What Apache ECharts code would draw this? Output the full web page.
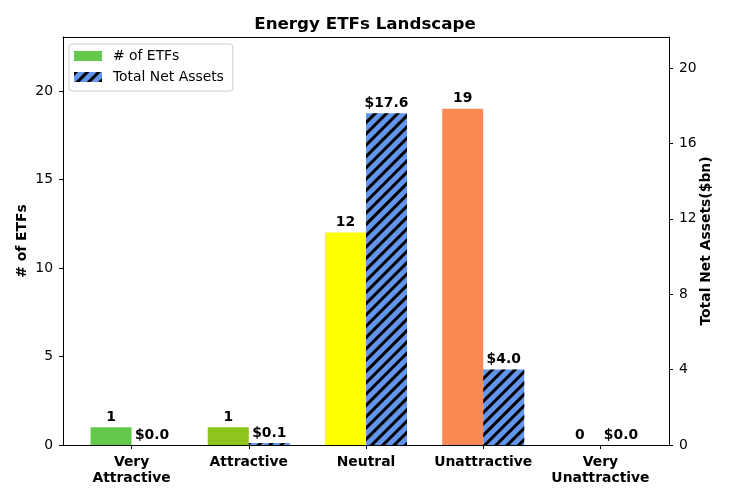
<!DOCTYPE html>
<html><head><meta charset="utf-8">
<script src="https://cdn.jsdelivr.net/npm/echarts@6/dist/echarts.min.js"></script>
<style>html,body{margin:0;padding:0;background:#fff}#c{width:730px;height:500px}</style>
</head><body><div id="c"></div>
<script>
const categories = ['Very\nAttractive', 'Attractive', 'Neutral', 'Unattractive', 'Very\nUnattractive'];
const etfCounts = [1, 1, 12, 19, 0];
const netAssets = [0.0, 0.1, 17.6, 4.0, 0.0];
const barColors = ['#63c94c', '#8ec51c', '#ffff00', '#fa8a52', '#63c94c'];
const leftTicks = [0, 5, 10, 15, 20];
const rightTicks = [0, 4, 8, 12, 16, 20];

const FONT = 'DejaVu Sans';
const chart = echarts.init(document.getElementById('c'), null, {renderer: 'canvas'});
const catIdx = categories.map((c, i) => i);

chart.setOption({
  animation: false,
  backgroundColor: '#fff',
  textStyle: {fontFamily: FONT},
  title: {
    text: 'Energy ETFs Landscape', left: 'center', top: 16, padding: 0,
    textStyle: {fontFamily: FONT, fontSize: 16.7, fontWeight: 'bold', color: '#000'}
  },
  legend: {
    orient: 'vertical', left: 69, top: 44,
    backgroundColor: 'rgba(255,255,255,0.85)', borderColor: '#cccccc', borderWidth: 1, borderRadius: 3,
    padding: [5, 9, 7, 5], itemWidth: 28, itemHeight: 10, itemGap: 7,
    textStyle: {fontFamily: FONT, fontSize: 13.9, color: '#000', padding: [0, 0, 0, 6]},
    data: [{name: '# of ETFs', icon: 'rect'}, {name: 'Total Net Assets', icon: 'rect'}]
  },
  grid: {left: 63, right: 61, top: 37, bottom: 55, containLabel: false},
  xAxis: [{
    type: 'value', min: -0.585, max: 4.585,
    splitLine: {show: false},
    axisLine: {show: true, onZero: false, lineStyle: {color: '#000', width: 1}},
    axisTick: {show: true, length: 4, lineStyle: {color: '#000'}, customValues: catIdx},
    axisLabel: {
      customValues: catIdx, margin: 10,
      formatter: v => categories[Math.round(v)],
      fontFamily: FONT, fontSize: 13.9, fontWeight: 'bold', color: '#000', lineHeight: 15.5
    }
  }, {
    type: 'value', position: 'top', min: -0.585, max: 4.585,
    splitLine: {show: false},
    axisLine: {show: true, onZero: false, lineStyle: {color: '#000', width: 1}},
    axisTick: {show: false}, axisLabel: {show: false}
  }],
  yAxis: [{
    type: 'value', min: 0, max: 23.05, interval: 5, position: 'left',
    name: '# of ETFs', nameLocation: 'middle', nameGap: 34, nameRotate: 90, nameMoveOverlap: false,
    nameTextStyle: {fontFamily: FONT, fontSize: 13.9, fontWeight: 'bold', color: '#000'},
    splitLine: {show: false},
    axisLine: {show: true, onZero: false, lineStyle: {color: '#000', width: 1}},
    axisTick: {show: true, length: 4, lineStyle: {color: '#000'}, customValues: leftTicks},
    axisLabel: {customValues: leftTicks, margin: 10, fontFamily: FONT, fontSize: 13.9, color: '#000'}
  }, {
    type: 'value', min: 0, max: 21.64, interval: 4, position: 'right',
    name: 'Total Net Assets($bn)', nameLocation: 'middle', nameGap: 30, nameRotate: 90, nameMoveOverlap: false,
    nameTextStyle: {fontFamily: FONT, fontSize: 13.9, fontWeight: 'bold', color: '#000'},
    splitLine: {show: false},
    axisLine: {show: true, onZero: false, lineStyle: {color: '#000', width: 1}},
    axisTick: {show: true, length: 4, lineStyle: {color: '#000'}, customValues: rightTicks},
    axisLabel: {customValues: rightTicks, margin: 10, fontFamily: FONT, fontSize: 13.9, color: '#000'}
  }],
  series: [{
    name: '# of ETFs', type: 'bar', xAxisIndex: 0, yAxisIndex: 0,
    barWidth: '35%', barGap: '0%',
    itemStyle: {color: barColors[0]},
    data: etfCounts.map((v, i) => ({value: [i, v], itemStyle: {color: barColors[i]}})),
    label: {
      show: true, position: 'top', distance: 3,
      formatter: p => String(p.value[1]),
      fontFamily: FONT, fontSize: 13.9, fontWeight: 'bold', color: '#000'
    }
  }, {
    name: 'Total Net Assets', type: 'bar', xAxisIndex: 0, yAxisIndex: 1,
    barWidth: '35%', barGap: '0%',
    itemStyle: {
      color: '#6495ed',
      decal: {symbol: 'rect', symbolSize: 1, dashArrayX: [1, 0], dashArrayY: [2.5, 4.5], rotation: -Math.PI / 4, color: '#000'}
    },
    data: netAssets.map((v, i) => [i, v]),
    label: {
      show: true, position: 'top', distance: 3,
      formatter: p => '$' + p.value[1].toFixed(1),
      fontFamily: FONT, fontSize: 13.9, fontWeight: 'bold', color: '#000'
    }
  }]
});
</script></body></html>
